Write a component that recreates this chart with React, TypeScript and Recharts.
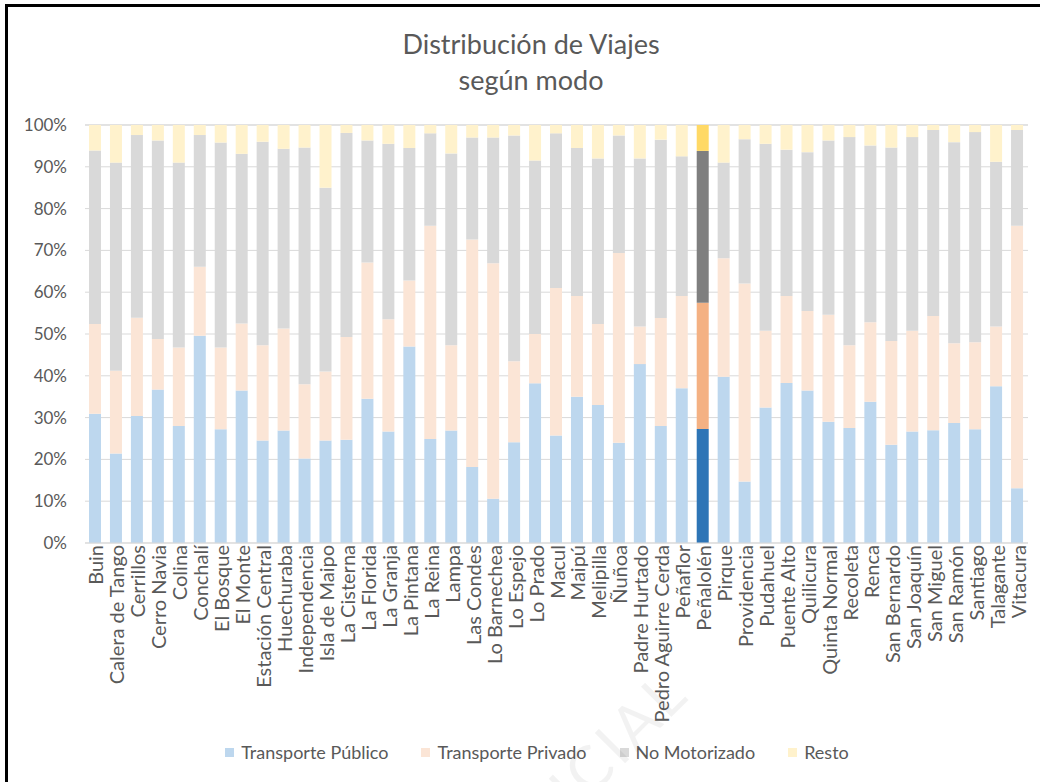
import { BarChart, Bar, XAxis, YAxis, CartesianGrid, Legend, Cell } from "recharts";

const FONT = "Lato, 'Open Sans', sans-serif";
const TEXT = "#595959";
const GRID = "#D9D9D9";
const HIGHLIGHT = "Peñalolén";

const COMUNAS = [
  "Buin", "Calera de Tango", "Cerrillos", "Cerro Navia", "Colina", "Conchalí", "El Bosque",
  "El Monte", "Estación Central", "Huechuraba", "Independencia", "Isla de Maipo", "La Cisterna",
  "La Florida", "La Granja", "La Pintana", "La Reina", "Lampa", "Las Condes", "Lo Barnechea",
  "Lo Espejo", "Lo Prado", "Macul", "Maipú", "Melipilla", "Ñuñoa", "Padre Hurtado",
  "Pedro Aguirre Cerda", "Peñaflor", "Peñalolén", "Pirque", "Providencia", "Pudahuel",
  "Puente Alto", "Quilicura", "Quinta Normal", "Recoleta", "Renca", "San Bernardo",
  "San Joaquín", "San Miguel", "San Ramón", "Santiago", "Talagante", "Vitacura",
];

const TRANSPORTE_PUBLICO = [
  30.9, 21.4, 30.4, 36.7, 28.0, 49.6, 27.2, 36.5, 24.5, 26.9, 20.2, 24.5, 24.7, 34.5, 26.7,
  47.0, 24.9, 26.9, 18.2, 10.6, 24.1, 38.2, 25.7, 35.0, 33.0, 24.0, 42.8, 28.0, 37.0, 27.3,
  39.8, 14.7, 32.4, 38.3, 36.5, 29.0, 27.5, 33.8, 23.5, 26.7, 27.0, 28.7, 27.2, 37.5, 13.1,
];
const TRANSPORTE_PRIVADO = [
  21.5, 19.8, 23.5, 12.1, 18.8, 16.5, 19.6, 16.0, 22.8, 24.4, 17.8, 16.5, 24.6, 32.6, 26.8,
  15.8, 51.0, 20.4, 54.4, 56.3, 19.4, 11.8, 35.3, 24.1, 19.4, 45.4, 9.0, 25.8, 22.1, 30.2,
  28.3, 47.4, 18.4, 20.8, 19.0, 25.6, 19.8, 19.0, 24.8, 24.1, 27.3, 19.1, 20.8, 14.3, 62.8,
];
const NO_MOTORIZADO = [
  41.5, 49.8, 43.7, 47.5, 44.2, 31.5, 49.0, 40.6, 48.7, 43.0, 56.6, 44.0, 48.8, 29.2, 42.0,
  31.7, 22.1, 45.9, 24.4, 30.1, 54.0, 41.5, 37.0, 35.4, 39.6, 28.1, 40.2, 42.7, 33.4, 36.3,
  22.9, 34.5, 44.7, 35.0, 38.0, 41.7, 49.8, 42.3, 46.3, 46.3, 44.5, 48.1, 50.3, 39.4, 22.9,
];
const RESTO = [
  6.1, 9.0, 2.4, 3.7, 9.0, 2.4, 4.2, 6.9, 4.0, 5.7, 5.4, 15.0, 1.9, 3.7, 4.5,
  5.5, 2.0, 6.8, 3.0, 3.0, 2.5, 8.5, 2.0, 5.5, 8.0, 2.5, 8.0, 3.5, 7.5, 6.2,
  9.0, 3.4, 4.5, 5.9, 6.5, 3.7, 2.9, 4.9, 5.4, 2.9, 1.2, 4.1, 1.7, 8.8, 1.2,
];

const Y_TICKS = [0, 10, 20, 30, 40, 50, 60, 70, 80, 90, 100];

const SERIES = [
  { key: "publico", name: "Transporte Público", color: "#BDD7EE", strong: "#2E75B6" },
  { key: "privado", name: "Transporte Privado", color: "#FBE5D6", strong: "#F4B183" },
  { key: "noMotorizado", name: "No Motorizado", color: "#D9D9D9", strong: "#7F7F7F" },
  { key: "resto", name: "Resto", color: "#FFF2CC", strong: "#FFD966" },
];

const data = COMUNAS.map((comuna, i) => ({
  comuna,
  publico: TRANSPORTE_PUBLICO[i],
  privado: TRANSPORTE_PRIVADO[i],
  noMotorizado: NO_MOTORIZADO[i],
  resto: RESTO[i],
}));

const ComunaTick = ({ x, y, payload }: any) => (
  <text
    transform={`translate(${x},${y - 6}) rotate(-90)`}
    textAnchor="end"
    dominantBaseline="central"
    fill={TEXT}
    fontSize={20}
    fontFamily={FONT}
  >
    {payload.value}
  </text>
);

const LegendContent = () => (
  <div
    style={{
      display: "flex",
      justifyContent: "center",
      gap: 33,
      fontFamily: FONT,
      fontSize: 18,
      color: TEXT,
      paddingLeft: 34,
    }}
  >
    {SERIES.map((s) => (
      <div key={s.key} style={{ display: "flex", alignItems: "center", gap: 7 }}>
        <div style={{ width: 9, height: 9, backgroundColor: s.color }} />
        <span>{s.name}</span>
      </div>
    ))}
  </div>
);

export default function App() {
  return (
    <div
      style={{
        position: "fixed",
        left: 0,
        top: 0,
        width: 1040,
        height: 782,
        overflow: "hidden",
        background: "#fff",
        fontFamily: FONT,
      }}
    >
      <div
        style={{
          position: "absolute",
          left: 0,
          top: 26,
          width: 1062,
          textAlign: "center",
          color: TEXT,
          fontSize: 27,
          lineHeight: "36px",
        }}
      >
        Distribución de Viajes
        <br />
        según modo
      </div>
      <div style={{ position: "absolute", left: 0, top: 0 }}>
        <BarChart
          width={1040}
          height={782}
          data={data}
          margin={{ top: 125, right: 12, left: 15, bottom: 0 }}
        >
          <CartesianGrid stroke={GRID} vertical={false} />
          <XAxis
            dataKey="comuna"
            interval={0}
            height={239}
            tick={<ComunaTick />}
            tickLine={false}
            axisLine={{ stroke: GRID }}
          />
          <YAxis
            width={70}
            domain={[0, 100]}
            ticks={Y_TICKS}
            tickFormatter={(v: number) => `${v}%`}
            tick={{ fill: TEXT, fontSize: 17, fontFamily: FONT }}
            tickLine={false}
            axisLine={false}
            tickMargin={12}
          />
          <Legend
            layout="horizontal"
            verticalAlign="middle"
            align="center"
            content={<LegendContent />}
            wrapperStyle={{ top: 741, left: 0, width: 1040 }}
          />
          {SERIES.map((s) => (
            <Bar
              key={s.key}
              dataKey={s.key}
              name={s.name}
              stackId="a"
              barSize={12}
              isAnimationActive={false}
            >
              {data.map((d) => (
                <Cell key={d.comuna} fill={d.comuna === HIGHLIGHT ? s.strong : s.color} />
              ))}
            </Bar>
          ))}
        </BarChart>
      </div>
      <div
        style={{
          position: "absolute",
          left: 470,
          top: 835,
          transform: "rotate(-45deg)",
          transformOrigin: "left top",
          fontSize: 60,
          color: "rgba(0,0,0,0.05)",
          letterSpacing: 4,
          pointerEvents: "none",
        }}
      >
        OFICIAL
      </div>
      {/* marco: solo los bordes izquierdo y superior caen dentro de la imagen */}
      <div
        style={{
          position: "absolute",
          left: 5,
          top: 4,
          width: 3,
          height: 800,
          background: "#000",
        }}
      />
      <div
        style={{
          position: "absolute",
          left: 5,
          top: 4,
          width: 1100,
          height: 3,
          background: "#000",
        }}
      />
    </div>
  );
}
